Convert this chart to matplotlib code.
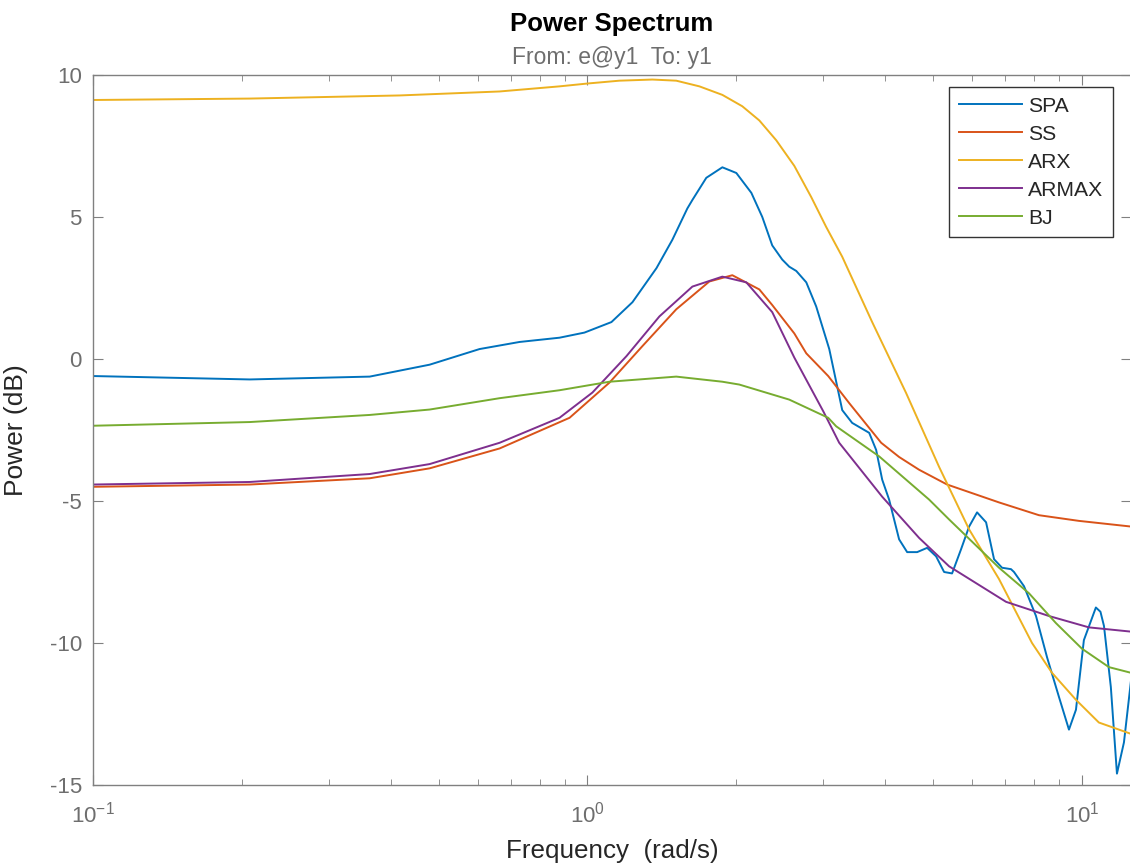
import numpy as np
import matplotlib
matplotlib.use("Agg")
import matplotlib.pyplot as plt

plt.rcParams['font.family'] = ['Liberation Sans', 'DejaVu Sans']
plt.rcParams['mathtext.default'] = 'regular'
plt.rcParams['axes.unicode_minus'] = False

# frequencies (rad/s) and power (dB)
w_spa = [0.1, 0.2075, 0.3627, 0.4795, 0.6049, 0.7289, 0.8779, 0.986, 1.118, 1.233,
         1.379, 1.485, 1.592, 1.63, 1.739, 1.874, 2.000, 2.145, 2.257, 2.364,
         2.477, 2.559, 2.644, 2.770, 2.901, 3.083, 3.275, 3.43, 3.713, 3.835,
         3.945, 4.074, 4.268, 4.431, 4.642, 4.863, 5.071, 5.263, 5.462, 5.695,
         5.913, 6.136, 6.399, 6.641, 6.893, 7.187, 7.288, 7.635, 8.074, 8.499,
         8.985, 9.413, 9.725, 10.09, 10.67, 10.9, 11.08, 11.44, 11.77, 12.16,
         12.57]
p_spa = [-0.6, -0.72, -0.62, -0.2, 0.35, 0.6, 0.75, 0.93, 1.3, 2.0,
         3.2, 4.2, 5.3, 5.6, 6.38, 6.75, 6.55, 5.85, 5.0, 4.0,
         3.5, 3.25, 3.1, 2.7, 1.85, 0.35, -1.8, -2.25, -2.6, -3.2,
         -4.25, -4.95, -6.35, -6.8, -6.8, -6.65, -6.95, -7.5, -7.55, -6.7,
         -5.9, -5.4, -5.75, -7.05, -7.35, -7.4, -7.5, -8.0, -9.05, -10.5,
         -11.9, -13.05, -12.35, -9.9, -8.75, -8.9, -9.4, -11.55, -14.6, -13.5,
         -11.3]

w_ss = [0.1, 0.2075, 0.3627, 0.4795, 0.6642, 0.920, 1.108, 1.291, 1.512, 1.764,
        1.963, 2.226, 2.364, 2.62, 2.77, 3.068, 3.382, 3.926, 4.268, 4.685,
        5.337, 6.797, 8.186, 9.86, 12.57]
p_ss = [-4.5, -4.42, -4.2, -3.85, -3.15, -2.07, -0.83, 0.45, 1.75, 2.73,
        2.95, 2.45, 1.9, 0.9, 0.2, -0.6, -1.55, -2.95, -3.45, -3.9,
        -4.42, -5.05, -5.5, -5.7, -5.9]

w_arx = [0.1, 0.2075, 0.417, 0.664, 0.878, 1.0, 1.16, 1.353, 1.512, 1.684,
         1.874, 2.056, 2.226, 2.409, 2.62, 2.835, 3.039, 3.275, 3.765, 4.41,
         5.142, 5.913, 6.797, 7.925, 8.698, 9.725, 10.82, 12.57]
p_arx = [9.12, 9.17, 9.28, 9.42, 9.6, 9.7, 9.8, 9.84, 9.8, 9.6,
         9.3, 8.9, 8.4, 7.7, 6.8, 5.7, 4.65, 3.6, 1.3, -1.2,
         -3.8, -6.0, -7.75, -10.0, -11.05, -12.0, -12.8, -13.2]

w_armax = [0.1, 0.2075, 0.3627, 0.4795, 0.6642, 0.8779, 1.0235, 1.199, 1.398, 1.63,
           1.874, 2.095, 2.364, 2.62, 3.0, 3.229, 3.945, 4.685, 5.387, 7.022,
           8.578, 10.33, 12.57]
p_armax = [-4.42, -4.33, -4.05, -3.7, -2.95, -2.07, -1.18, 0.1, 1.5, 2.55,
           2.9, 2.7, 1.65, 0.05, -1.85, -2.95, -4.85, -6.3, -7.3, -8.55,
           -9.05, -9.45, -9.6]

w_bj = [0.1, 0.2075, 0.3627, 0.4795, 0.6642, 0.8779, 1.108, 1.512, 1.874, 2.028,
        2.559, 3.068, 3.184, 3.89, 4.908, 5.387, 6.797, 7.815, 8.86, 10.0,
        11.34, 12.57]
p_bj = [-2.35, -2.22, -1.97, -1.78, -1.38, -1.1, -0.8, -0.62, -0.8, -0.9,
        -1.43, -2.07, -2.37, -3.43, -4.95, -5.65, -7.35, -8.25, -9.3, -10.2,
        -10.85, -11.05]

labels = ['SPA', 'SS', 'ARX', 'ARMAX', 'BJ']
colors = ['#0072BD', '#D95319', '#EDB120', '#7E2F8E', '#77AC30']

fig = plt.figure(figsize=(11.3, 8.65), dpi=100)
ax = fig.add_axes([93/1130, 80/865, 1038/1130, 710/865])

series = [(w_spa, p_spa), (w_ss, p_ss), (w_arx, p_arx), (w_armax, p_armax), (w_bj, p_bj)]
for (w, p), lab, c in zip(series, labels, colors):
    ax.plot(w, p, color=c, lw=1.4, label=lab)

ax.set_xscale('log')
ax.set_xlim(0.1, 12.566)
ax.set_ylim(-15, 10)
ax.set_yticks([-15, -10, -5, 0, 5, 10])

gray = '#6e6e6e'
for s in ax.spines.values():
    s.set_color('#808080')
    s.set_linewidth(1.0)
ax.tick_params(which='both', direction='in', top=True, right=True, colors='#808080',
               labelcolor=gray, labelsize=16)
ax.tick_params(which='major', length=7)
ax.tick_params(which='minor', length=4)
ax.tick_params(axis='y', which='major', pad=8)
ax.tick_params(axis='x', which='major', pad=12)

ax.set_xlabel('Frequency  (rad/s)', fontsize=18.7, color='#262626', labelpad=8)
ax.set_ylabel('Power (dB)', fontsize=19, color='#262626')
ax.yaxis.set_label_coords(-0.0626, 0.5)

ax.text(0.5, 1.072, 'Power Spectrum', transform=ax.transAxes, ha='center', va='center',
        fontsize=18.5, fontweight='bold', color='black')
ax.text(0.5, 1.024, 'From: e@y1  To: y1', transform=ax.transAxes, ha='center', va='center',
        fontsize=16.5, color=gray)

leg = ax.legend(loc='upper right', bbox_to_anchor=(0.9827, 0.983), borderaxespad=0,
                fancybox=False, edgecolor='black', fontsize=15.2, handlelength=3.0,
                handletextpad=0.3, labelspacing=0.43, borderpad=0.45)
leg.get_frame().set_linewidth(1.0)
for t in leg.get_texts():
    t.set_color('#262626')

fig.savefig('out.png', dpi=100)
